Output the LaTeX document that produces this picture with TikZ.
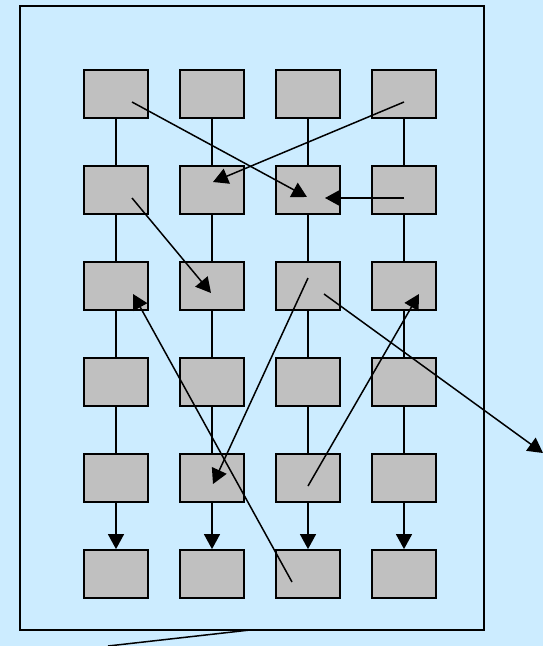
\documentclass[tikz,border=0pt]{standalone}
\usetikzlibrary{arrows.meta}
\definecolor{skyback}{HTML}{CCECFF}
\definecolor{boxgray}{HTML}{C0C0C0}

\begin{document}
\begin{tikzpicture}
        [x=1pt,y=-1pt,
         box/.style={draw,line width=1.8pt,fill=boxgray,minimum width=64pt,minimum height=48pt,inner sep=0},
         link/.style={line width=1.5pt},
         tip/.style={link,-{Triangle[length=15pt,width=16pt]}}]

        \fill[skyback] (0,0) rectangle (543,646);
        \useasboundingbox (0,0) rectangle (543,646);
        \draw[line width=1.8pt] (20,6) rectangle (484,630);

        \node[box] (11) at (116, 94) {};
        \node[box] (12) at (212, 94) {};
        \node[box] (13) at (308, 94) {};
        \node[box] (14) at (404, 94) {};
        \node[box] (21) at (116,190) {};
        \node[box] (22) at (212,190) {};
        \node[box] (23) at (308,190) {};
        \node[box] (24) at (404,190) {};
        \node[box] (31) at (116,286) {};
        \node[box] (32) at (212,286) {};
        \node[box] (33) at (308,286) {};
        \node[box] (34) at (404,286) {};
        \node[box] (41) at (116,382) {};
        \node[box] (42) at (212,382) {};
        \node[box] (43) at (308,382) {};
        \node[box] (44) at (404,382) {};
        \node[box] (51) at (116,478) {};
        \node[box] (52) at (212,478) {};
        \node[box] (53) at (308,478) {};
        \node[box] (54) at (404,478) {};
        \node[box] (61) at (116,574) {};
        \node[box] (62) at (212,574) {};
        \node[box] (63) at (308,574) {};
        \node[box] (64) at (404,574) {};

        \coordinate (off) at (543,453);
        \coordinate (base) at (250,630);
        \coordinate (tail) at (108,646);

        % column links
        \draw[link] (11) -- (21);
        \draw[link] (21) -- (31);
        \draw[link] (31) -- (41);
        \draw[link] (41) -- (51);
        \draw[tip] (51) -- (61);
        \draw[link] (12) -- (22);
        \draw[link] (22) -- (32);
        \draw[link] (32) -- (42);
        \draw[link] (42) -- (52);
        \draw[tip] (52) -- (62);
        \draw[link] (13) -- (23);
        \draw[link] (23) -- (33);
        \draw[link] (33) -- (43);
        \draw[link] (43) -- (53);
        \draw[tip] (53) -- (63);
        \draw[link] (14) -- (24);
        \draw[link] (24) -- (34);
        \draw[link] (34) -- (44);
        \draw[link] (44) -- (54);
        \draw[tip] (54) -- (64);

        % cross links
        \draw[tip] ([shift={(16,8)}]11.center) -- ([shift={(-1,7)}]23.center);
        \draw[tip] ([shift={(0,8)}]14.center) -- ([shift={(1,-8)}]22.center);
        \draw[tip] ([shift={(0,8)}]24.center) -- ([shift={(17,8)}]23.center);
        \draw[tip] ([shift={(16,8)}]21.center) -- ([shift={(-1,7)}]32.center);
        \draw[tip] ([shift={(0,-8)}]33.center) -- ([shift={(1,6)}]52.center);
        \draw[tip] ([shift={(16,8)}]33.center) -- (off);
        \draw[tip] ([shift={(-16,8)}]63.center) -- ([shift={(17,8)}]31.center);
        \draw[tip] ([shift={(0,8)}]53.center) -- ([shift={(15,8)}]34.center);
        \draw[link] (base) -- (tail);
      \end{tikzpicture}
\end{document}
